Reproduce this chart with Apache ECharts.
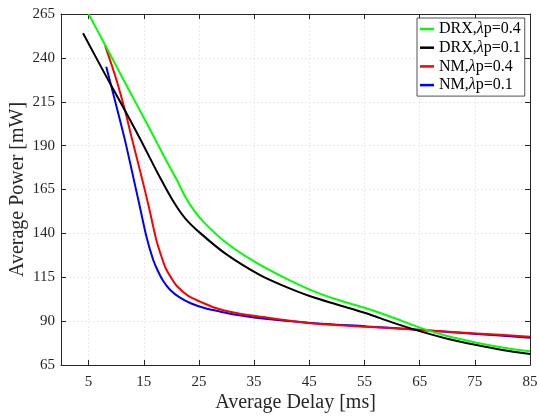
<!DOCTYPE html>
<html>
<head>
<meta charset="utf-8">
<script src="https://cdn.jsdelivr.net/npm/echarts@6/dist/echarts.min.js"></script>
<style>html,body{margin:0;padding:0;background:#fff}#c{width:539px;height:416px}</style>
</head>
<body>
<div id="c"></div>
<script>
const xTicks = [5, 15, 25, 35, 45, 55, 65, 75, 85];
const yTicks = [65, 90, 115, 140, 165, 190, 215, 240, 265];
const xLabel = 'Average Delay [ms]';
const yLabel = 'Average Power [mW]';
const seriesNames = ['DRX,λp=0.4', 'DRX,λp=0.1', 'NM,λp=0.4', 'NM,λp=0.1'];
const seriesColors = ['#00ff00', '#000000', '#ff0000', '#0000ff'];

const drx04X = [5, 8, 12, 16, 19, 21, 22.5, 24, 26, 30, 35, 40, 45.3, 50, 55.3, 60, 65.3, 70, 75.3, 80, 85];
const drx04Y = [265, 247.3, 223.6, 200, 182, 170.4, 161, 153.5, 146, 134.5, 124, 115.5, 107.7, 102.3, 97.3, 92.2, 86, 81.5, 77.7, 75, 72.8];

const drx01X = [4, 8, 11.6, 14.4, 18, 20.4, 22.5, 25.3, 30, 36, 40, 45.3, 50, 55.3, 60, 65.3, 70, 75.3, 80, 85];
const drx01Y = [254, 230.6, 210, 193.5, 171.5, 158, 148.6, 140, 128, 116.3, 110.5, 104, 99.5, 94.5, 89.3, 84, 80, 76.4, 73.6, 71.3];

const nm04X = [8, 10, 11.6, 12.85, 14.7, 16, 17.3, 18.4, 19, 20, 21, 23, 25.3, 28, 32, 36.2, 45.3, 55.3, 65.3, 75.3, 85];
const nm04Y = [247, 228, 210, 194, 171, 154, 136, 125, 120, 114.5, 110, 104.5, 101, 97.5, 94.5, 92.5, 88.8, 86.8, 85, 83, 81.1];

const nm01X = [8.2, 10, 11.6, 13.1, 14.3, 15.5, 16.7, 17.5, 18.5, 19.8, 21.5, 23.5, 26, 28.9, 32, 36.2, 45.3, 55.3, 65.3, 75.3, 85];
const nm01Y = [235, 213, 193, 172, 155, 138, 125, 119, 113, 107.7, 103.5, 100.2, 97.5, 95.4, 93.5, 91.6, 89, 87, 85, 82.7, 80.5];

const allX = [drx04X, drx01X, nm04X, nm01X];
const allY = [drx04Y, drx01Y, nm04Y, nm01Y];

const FONT = '"Liberation Serif", "DejaVu Serif", serif';
const AX = '#262626';

const chart = echarts.init(document.getElementById('c'), null, {renderer: 'canvas'});

function mkX(pos, show) {
  return {
    type: 'value', position: pos, min: 0, max: 85,
    axisLine: {show: true, onZero: false, lineStyle: {color: AX, width: 1}},
    axisTick: {show: true, inside: true, length: 5, customValues: xTicks, lineStyle: {color: AX}},
    axisLabel: {show: show, customValues: xTicks, color: AX, fontFamily: FONT, fontSize: 15, margin: 10},
    splitLine: {show: show, lineStyle: {color: '#e6e6e6', type: [2, 2], width: 0.8}},
    name: show ? xLabel : '', nameLocation: 'middle', nameGap: 28, nameMoveOverlap: false,
    nameTextStyle: {fontFamily: FONT, fontSize: 20, color: AX}
  };
}
function mkY(pos, show) {
  return {
    type: 'value', position: pos, min: 65, max: 265,
    axisLine: {show: true, onZero: false, lineStyle: {color: AX, width: 1}},
    axisTick: {show: true, inside: true, length: 5, customValues: yTicks, lineStyle: {color: AX}},
    axisLabel: {show: show, customValues: yTicks, color: AX, fontFamily: FONT, fontSize: 15, margin: 6},
    splitLine: {show: show, lineStyle: {color: '#e6e6e6', type: [2, 2], width: 0.8}},
    name: show ? yLabel : '', nameLocation: 'middle', nameGap: 33, nameRotate: 90, nameMoveOverlap: false,
    nameTextStyle: {fontFamily: FONT, fontSize: 20, color: AX}
  };
}

const series = seriesNames.map((n, i) => ({
  name: n, type: 'line', xAxisIndex: 0, yAxisIndex: 0,
  data: allX[i].map((x, j) => [x, allY[i][j]]),
  smooth: 0.3, showSymbol: false, symbol: 'none',
  lineStyle: {color: seriesColors[i], width: 2},
  itemStyle: {color: seriesColors[i]},
  clip: true, z: 10 - i
}));

chart.setOption({
  animation: false,
  backgroundColor: '#fff',
  grid: {left: 61, right: 9, top: 14, bottom: 51, containLabel: false, outerBoundsMode: 'none'},
  xAxis: [mkX('bottom', true), mkX('top', false)],
  yAxis: [mkY('left', true), mkY('right', false)],
  legend: {
    data: seriesNames.map(n => ({name: n, icon: 'rect'})),
    orient: 'vertical', left: 417, top: 18,
    itemWidth: 14, itemHeight: 2.5, itemGap: 2.7,
    padding: [3, 4, 3, 3],
    backgroundColor: '#fff', borderColor: AX, borderWidth: 0.8,
    textStyle: {fontFamily: FONT, fontSize: 16, color: '#000', lineHeight: 16,
      rich: {i: {fontFamily: FONT, fontSize: 16, fontStyle: 'italic', color: '#000', lineHeight: 16}}},
    formatter: n => n.replace('λ', '{i|λ}'),
    selectedMode: false
  },
  series: series
});
</script>
</body>
</html>
